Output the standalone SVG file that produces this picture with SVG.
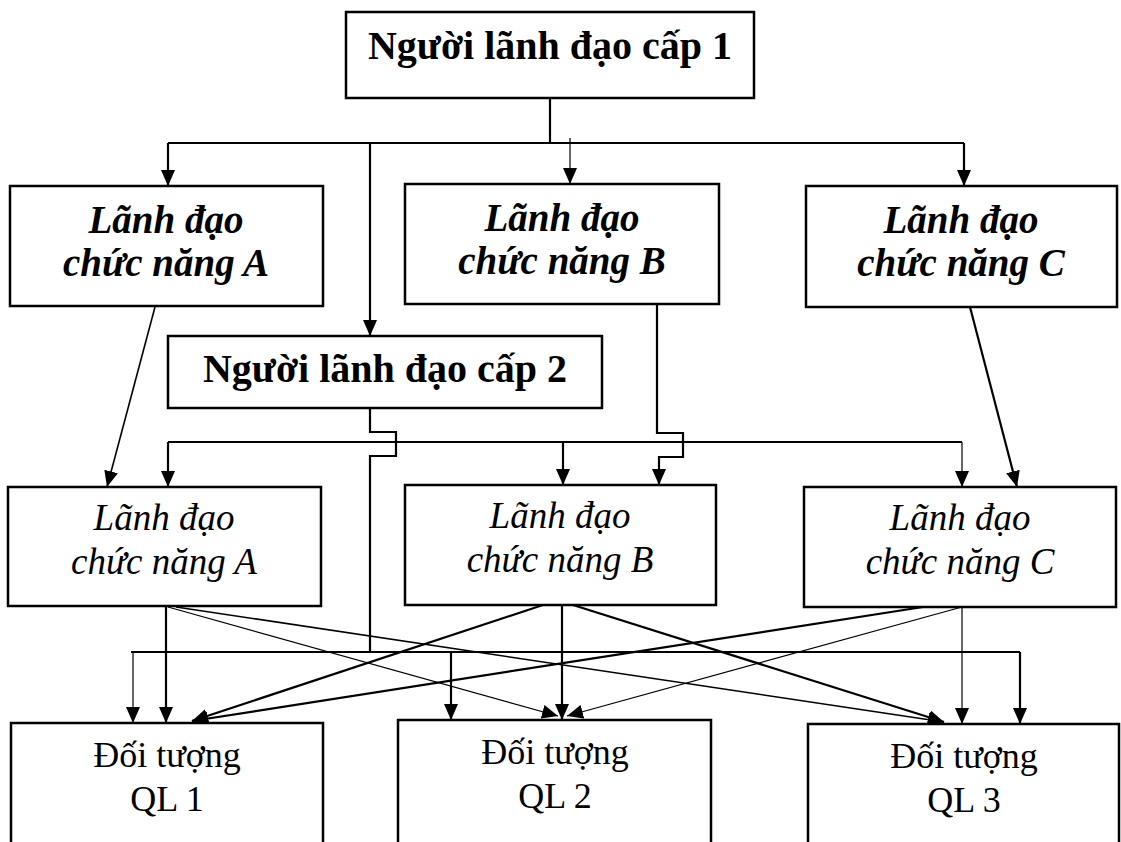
<svg xmlns="http://www.w3.org/2000/svg" width="1121" height="842" viewBox="0 0 1121 842">
  <style>
    .box { fill: #ffffff; stroke: #000000; stroke-width: 2.5; }
    .t { font-family: "Liberation Serif", "Times New Roman", serif; font-size: 36px; fill: #000000; text-anchor: middle; }
    .b { font-weight: bold; font-size: 40px; }
    .i { font-style: italic; font-size: 37px; }
    .bi { font-weight: bold; font-style: italic; font-size: 39px; }
    .c { fill: none; stroke: #000000; stroke-width: 2.2; }
    .m { stroke-width: 1.6; }
    .thin { stroke-width: 1.2; }
    .arr { marker-end: url(#ah); }
  </style>
  <defs>
    <marker id="ah" markerUnits="userSpaceOnUse" markerWidth="16" markerHeight="14" refX="16" refY="7" orient="auto">
      <path d="M0,0 L16,7 L0,14 z" fill="#000000"/>
    </marker>
  </defs>
  <rect width="1121" height="842" fill="#ffffff"/>

  <g id="connectors">
    <!-- level 1 to the functional leaders and level 2 -->
    <path class="c" d="M550 98 V143"/>
    <path class="c" d="M168 143 H964"/>
    <path class="c arr" d="M168 143 V186"/>
    <path class="c arr" d="M370 143 V336"/>
    <path class="c thin arr" d="M570 138 V184"/>
    <path class="c arr" d="M964 143 V186"/>

    <!-- functional leaders (upper) to functional leaders (lower) -->
    <path class="c m arr" d="M155 307 L107 487"/>
    <path class="c arr" d="M970 307 L1017 487"/>
    <path class="c arr" d="M657 300 V433 H683 V457 H659 V485"/>

    <!-- level 2 distribution bus -->
    <path class="c" d="M168 442 H962"/>
    <path class="c arr" d="M168 442 V487"/>
    <path class="c arr" d="M563 442 V485"/>
    <path class="c thin arr" d="M962 442 V487"/>
    <path class="c" d="M370 408 V432 H396 V456 H370 V652"/>

    <!-- bottom bus to managed objects -->
    <path class="c" d="M131 652 H1020"/>
    <path class="c thin arr" d="M133 652 V723"/>
    <path class="c arr" d="M451 652 V720"/>
    <path class="c arr" d="M1020 652 V724"/>

    <!-- from functional leader A -->
    <path class="c arr" d="M166 606 V723"/>
    <path class="c thin arr" d="M168 607 L558 716"/>
    <path class="c m arr" d="M176 607 L944 722"/>

    <!-- from functional leader B -->
    <path class="c arr" d="M543 605 L192 721"/>
    <path class="c arr" d="M562 605 V720"/>
    <path class="c arr" d="M573 605 L944 722"/>

    <!-- from functional leader C -->
    <path class="c arr" d="M923 607 L192 721"/>
    <path class="c thin arr" d="M962 607 L567 716"/>
    <path class="c thin arr" d="M962 607 V724"/>
  </g>

  <g id="lanh-dao-cap-1">
    <rect class="box" x="346" y="12" width="408" height="86"/>
    <text class="t b" x="550" y="59">Người lãnh đạo cấp 1</text>
  </g>

  <g id="chuc-nang-a-1">
    <rect class="box" x="10" y="186" width="313" height="120"/>
    <text class="t bi" x="166" y="233">Lãnh đạo</text>
    <text class="t bi" x="166" y="276">chức năng A</text>
  </g>

  <g id="chuc-nang-b-1">
    <rect class="box" x="405" y="184" width="314" height="120"/>
    <text class="t bi" x="562" y="231">Lãnh đạo</text>
    <text class="t bi" x="562" y="274">chức năng B</text>
  </g>

  <g id="chuc-nang-c-1">
    <rect class="box" x="806" y="186" width="311" height="121"/>
    <text class="t bi" x="961" y="233">Lãnh đạo</text>
    <text class="t bi" x="961" y="276">chức năng C</text>
  </g>

  <g id="lanh-dao-cap-2">
    <rect class="box" x="168" y="336" width="434" height="72"/>
    <text class="t b" x="385" y="382">Người lãnh đạo cấp 2</text>
  </g>

  <g id="chuc-nang-a-2">
    <rect class="box" x="8" y="487" width="313" height="119"/>
    <text class="t i" x="164" y="530">Lãnh đạo</text>
    <text class="t i" x="164" y="574">chức năng A</text>
  </g>

  <g id="chuc-nang-b-2">
    <rect class="box" x="405" y="485" width="311" height="120"/>
    <text class="t i" x="560" y="528">Lãnh đạo</text>
    <text class="t i" x="560" y="572">chức năng B</text>
  </g>

  <g id="chuc-nang-c-2">
    <rect class="box" x="804" y="487" width="312" height="120"/>
    <text class="t i" x="960" y="530">Lãnh đạo</text>
    <text class="t i" x="960" y="574">chức năng C</text>
  </g>

  <g id="doi-tuong-1">
    <rect class="box" x="11" y="723" width="312" height="130"/>
    <text class="t" x="167" y="767">Đối tượng</text>
    <text class="t" x="167" y="811">QL 1</text>
  </g>

  <g id="doi-tuong-2">
    <rect class="box" x="398" y="720" width="313" height="133"/>
    <text class="t" x="555" y="764">Đối tượng</text>
    <text class="t" x="555" y="808">QL 2</text>
  </g>

  <g id="doi-tuong-3">
    <rect class="box" x="808" y="724" width="311" height="129"/>
    <text class="t" x="964" y="768">Đối tượng</text>
    <text class="t" x="964" y="812">QL 3</text>
  </g>
</svg>
